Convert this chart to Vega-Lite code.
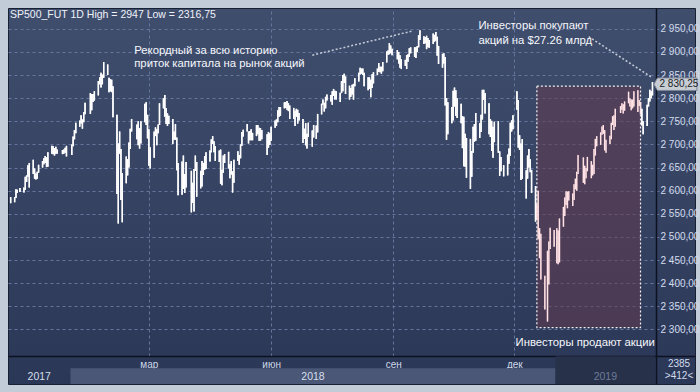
{
  "$schema": "https://vega.github.io/schema/vega-lite/v6.json",
  "width": 687,
  "height": 376,
  "autosize": {"type": "none"},
  "padding": {"left": 8, "top": 8, "right": 5, "bottom": 8},
  "background": "#c2ccd9",
  "title": {"text": "SP500_FUT 1D High = 2947 Low = 2316,75", "anchor": "start", "frame": "group", "orient": "top", "offset": -2, "baseline": "top", "fontSize": 10.5, "fontWeight": "normal", "color": "#eef2f8", "font": "Liberation Sans", "dx": 2, "dy": 11},
  "datasets": {
    "bars": [
      {"d":"2017-11-17","h":2586,"l":2573,"c":2578},
      {"d":"2017-11-20","h":2586,"l":2575,"c":2583},
      {"d":"2017-11-21","h":2603,"l":2584,"c":2600},
      {"d":"2017-11-22","h":2602,"l":2595,"c":2598},
      {"d":"2017-11-24","h":2606,"l":2597,"c":2604},
      {"d":"2017-11-27","h":2607,"l":2596,"c":2602},
      {"d":"2017-11-28","h":2630,"l":2602,"c":2628},
      {"d":"2017-11-29","h":2633,"l":2619,"c":2627},
      {"d":"2017-11-30","h":2655,"l":2630,"c":2649},
      {"d":"2017-12-01","h":2660,"l":2607,"c":2646},
      {"d":"2017-12-04","h":2667,"l":2636,"c":2641},
      {"d":"2017-12-05","h":2648,"l":2626,"c":2631},
      {"d":"2017-12-06","h":2637,"l":2624,"c":2632},
      {"d":"2017-12-07","h":2641,"l":2625,"c":2638},
      {"d":"2017-12-08","h":2656,"l":2639,"c":2654},
      {"d":"2017-12-11","h":2664,"l":2650,"c":2662},
      {"d":"2017-12-12","h":2670,"l":2657,"c":2667},
      {"d":"2017-12-13","h":2675,"l":2660,"c":2665},
      {"d":"2017-12-14","h":2672,"l":2651,"c":2654},
      {"d":"2017-12-15","h":2683,"l":2652,"c":2678},
      {"d":"2017-12-18","h":2697,"l":2680,"c":2692},
      {"d":"2017-12-19","h":2696,"l":2679,"c":2683},
      {"d":"2017-12-20","h":2692,"l":2676,"c":2681},
      {"d":"2017-12-21","h":2695,"l":2680,"c":2686},
      {"d":"2017-12-22","h":2689,"l":2680,"c":2685},
      {"d":"2017-12-26","h":2688,"l":2679,"c":2682},
      {"d":"2017-12-27","h":2689,"l":2680,"c":2685},
      {"d":"2017-12-28","h":2693,"l":2682,"c":2690},
      {"d":"2017-12-29","h":2697,"l":2674,"c":2676},
      {"d":"2018-01-02","h":2700,"l":2677,"c":2698},
      {"d":"2018-01-03","h":2717,"l":2696,"c":2714},
      {"d":"2018-01-04","h":2731,"l":2711,"c":2726},
      {"d":"2018-01-05","h":2747,"l":2724,"c":2745},
      {"d":"2018-01-08","h":2752,"l":2738,"c":2750},
      {"d":"2018-01-09","h":2763,"l":2745,"c":2753},
      {"d":"2018-01-10","h":2754,"l":2734,"c":2750},
      {"d":"2018-01-11","h":2770,"l":2748,"c":2769},
      {"d":"2018-01-12","h":2790,"l":2765,"c":2789},
      {"d":"2018-01-16","h":2811,"l":2766,"c":2779},
      {"d":"2018-01-17","h":2809,"l":2774,"c":2806},
      {"d":"2018-01-18","h":2809,"l":2792,"c":2801},
      {"d":"2018-01-19","h":2815,"l":2795,"c":2813},
      {"d":"2018-01-22","h":2837,"l":2806,"c":2836},
      {"d":"2018-01-23","h":2845,"l":2830,"c":2841},
      {"d":"2018-01-24","h":2855,"l":2823,"c":2839},
      {"d":"2018-01-25","h":2851,"l":2830,"c":2841},
      {"d":"2018-01-26","h":2878,"l":2844,"c":2876},
      {"d":"2018-01-29","h":2873,"l":2850,"c":2856},
      {"d":"2018-01-30","h":2844,"l":2813,"c":2826},
      {"d":"2018-01-31","h":2841,"l":2815,"c":2826},
      {"d":"2018-02-01","h":2840,"l":2813,"c":2824},
      {"d":"2018-02-02","h":2826,"l":2759,"c":2762},
      {"d":"2018-02-05","h":2764,"l":2593,"c":2635},
      {"d":"2018-02-06","h":2702,"l":2529,"c":2693},
      {"d":"2018-02-07","h":2728,"l":2680,"c":2685},
      {"d":"2018-02-08","h":2690,"l":2580,"c":2584},
      {"d":"2018-02-09","h":2638,"l":2532,"c":2620},
      {"d":"2018-02-12","h":2674,"l":2616,"c":2657},
      {"d":"2018-02-13","h":2668,"l":2633,"c":2664},
      {"d":"2018-02-14","h":2704,"l":2650,"c":2700},
      {"d":"2018-02-15","h":2734,"l":2690,"c":2732},
      {"d":"2018-02-16","h":2755,"l":2728,"c":2734},
      {"d":"2018-02-20","h":2743,"l":2711,"c":2719},
      {"d":"2018-02-21","h":2750,"l":2698,"c":2702},
      {"d":"2018-02-22","h":2735,"l":2691,"c":2707},
      {"d":"2018-02-23","h":2750,"l":2702,"c":2749},
      {"d":"2018-02-26","h":2788,"l":2748,"c":2784},
      {"d":"2018-02-27","h":2791,"l":2742,"c":2746},
      {"d":"2018-02-28","h":2764,"l":2713,"c":2715},
      {"d":"2018-03-01","h":2733,"l":2654,"c":2680},
      {"d":"2018-03-02","h":2694,"l":2648,"c":2692},
      {"d":"2018-03-05","h":2728,"l":2671,"c":2722},
      {"d":"2018-03-06","h":2737,"l":2718,"c":2729},
      {"d":"2018-03-07","h":2733,"l":2698,"c":2727},
      {"d":"2018-03-08","h":2743,"l":2724,"c":2740},
      {"d":"2018-03-09","h":2789,"l":2742,"c":2788},
      {"d":"2018-03-12","h":2800,"l":2778,"c":2785},
      {"d":"2018-03-13","h":2807,"l":2760,"c":2767},
      {"d":"2018-03-14","h":2778,"l":2744,"c":2752},
      {"d":"2018-03-15","h":2767,"l":2740,"c":2749},
      {"d":"2018-03-16","h":2762,"l":2744,"c":2755},
      {"d":"2018-03-19","h":2755,"l":2701,"c":2715},
      {"d":"2018-03-20","h":2728,"l":2710,"c":2720},
      {"d":"2018-03-21","h":2744,"l":2710,"c":2714},
      {"d":"2018-03-22","h":2715,"l":2644,"c":2647},
      {"d":"2018-03-23","h":2660,"l":2590,"c":2593},
      {"d":"2018-03-26","h":2663,"l":2591,"c":2659},
      {"d":"2018-03-27","h":2676,"l":2604,"c":2618},
      {"d":"2018-03-28","h":2636,"l":2595,"c":2609},
      {"d":"2018-03-29","h":2662,"l":2607,"c":2645},
      {"d":"2018-04-02","h":2643,"l":2553,"c":2583},
      {"d":"2018-04-03","h":2617,"l":2574,"c":2615},
      {"d":"2018-04-04","h":2647,"l":2555,"c":2645},
      {"d":"2018-04-05","h":2676,"l":2643,"c":2665},
      {"d":"2018-04-06","h":2662,"l":2587,"c":2606},
      {"d":"2018-04-09","h":2643,"l":2605,"c":2614},
      {"d":"2018-04-10","h":2664,"l":2609,"c":2657},
      {"d":"2018-04-11","h":2660,"l":2634,"c":2643},
      {"d":"2018-04-12","h":2675,"l":2645,"c":2665},
      {"d":"2018-04-13","h":2683,"l":2647,"c":2658},
      {"d":"2018-04-16","h":2687,"l":2663,"c":2680},
      {"d":"2018-04-17","h":2711,"l":2683,"c":2708},
      {"d":"2018-04-18","h":2718,"l":2701,"c":2710},
      {"d":"2018-04-19","h":2707,"l":2683,"c":2695},
      {"d":"2018-04-20","h":2696,"l":2664,"c":2672},
      {"d":"2018-04-23","h":2687,"l":2662,"c":2672},
      {"d":"2018-04-24","h":2689,"l":2615,"c":2637},
      {"d":"2018-04-25","h":2645,"l":2612,"c":2641},
      {"d":"2018-04-26","h":2676,"l":2639,"c":2669},
      {"d":"2018-04-27","h":2679,"l":2660,"c":2671},
      {"d":"2018-04-30","h":2684,"l":2648,"c":2650},
      {"d":"2018-05-01","h":2657,"l":2627,"c":2655},
      {"d":"2018-05-02","h":2664,"l":2635,"c":2637},
      {"d":"2018-05-03","h":2642,"l":2596,"c":2632},
      {"d":"2018-05-04","h":2667,"l":2617,"c":2665},
      {"d":"2018-05-07","h":2685,"l":2664,"c":2674},
      {"d":"2018-05-08","h":2677,"l":2656,"c":2673},
      {"d":"2018-05-09","h":2700,"l":2670,"c":2699},
      {"d":"2018-05-10","h":2727,"l":2697,"c":2725},
      {"d":"2018-05-11","h":2732,"l":2717,"c":2730},
      {"d":"2018-05-14","h":2744,"l":2728,"c":2732},
      {"d":"2018-05-15","h":2728,"l":2702,"c":2713},
      {"d":"2018-05-16","h":2729,"l":2709,"c":2724},
      {"d":"2018-05-17","h":2733,"l":2709,"c":2722},
      {"d":"2018-05-18","h":2725,"l":2709,"c":2715},
      {"d":"2018-05-21","h":2742,"l":2718,"c":2734},
      {"d":"2018-05-22","h":2742,"l":2722,"c":2726},
      {"d":"2018-05-23","h":2736,"l":2708,"c":2735},
      {"d":"2018-05-24","h":2735,"l":2708,"c":2729},
      {"d":"2018-05-25","h":2731,"l":2711,"c":2722},
      {"d":"2018-05-29","h":2722,"l":2677,"c":2693},
      {"d":"2018-05-30","h":2727,"l":2693,"c":2725},
      {"d":"2018-05-31","h":2724,"l":2699,"c":2707},
      {"d":"2018-06-01","h":2738,"l":2708,"c":2737},
      {"d":"2018-06-04","h":2752,"l":2736,"c":2749},
      {"d":"2018-06-05","h":2754,"l":2740,"c":2751},
      {"d":"2018-06-06","h":2774,"l":2748,"c":2773},
      {"d":"2018-06-07","h":2781,"l":2760,"c":2772},
      {"d":"2018-06-08","h":2781,"l":2762,"c":2780},
      {"d":"2018-06-11","h":2791,"l":2778,"c":2783},
      {"d":"2018-06-12","h":2792,"l":2779,"c":2788},
      {"d":"2018-06-13","h":2794,"l":2775,"c":2777},
      {"d":"2018-06-14","h":2789,"l":2772,"c":2784},
      {"d":"2018-06-15","h":2784,"l":2755,"c":2781},
      {"d":"2018-06-18","h":2779,"l":2755,"c":2777},
      {"d":"2018-06-19","h":2773,"l":2740,"c":2765},
      {"d":"2018-06-20","h":2777,"l":2760,"c":2770},
      {"d":"2018-06-21","h":2775,"l":2745,"c":2752},
      {"d":"2018-06-22","h":2768,"l":2752,"c":2757},
      {"d":"2018-06-25","h":2755,"l":2703,"c":2718},
      {"d":"2018-06-26","h":2734,"l":2712,"c":2725},
      {"d":"2018-06-27","h":2746,"l":2698,"c":2701},
      {"d":"2018-06-28","h":2723,"l":2691,"c":2719},
      {"d":"2018-06-29","h":2747,"l":2716,"c":2722},
      {"d":"2018-07-02","h":2730,"l":2695,"c":2729},
      {"d":"2018-07-03","h":2742,"l":2715,"c":2716},
      {"d":"2018-07-05","h":2741,"l":2712,"c":2739},
      {"d":"2018-07-06","h":2766,"l":2726,"c":2764},
      {"d":"2018-07-09","h":2788,"l":2765,"c":2787},
      {"d":"2018-07-10","h":2797,"l":2786,"c":2796},
      {"d":"2018-07-11","h":2790,"l":2771,"c":2777},
      {"d":"2018-07-12","h":2803,"l":2778,"c":2802},
      {"d":"2018-07-13","h":2808,"l":2795,"c":2805},
      {"d":"2018-07-16","h":2807,"l":2793,"c":2801},
      {"d":"2018-07-17","h":2815,"l":2786,"c":2812},
      {"d":"2018-07-18","h":2820,"l":2805,"c":2818},
      {"d":"2018-07-19","h":2816,"l":2797,"c":2807},
      {"d":"2018-07-20","h":2815,"l":2797,"c":2804},
      {"d":"2018-07-23","h":2812,"l":2792,"c":2809},
      {"d":"2018-07-24","h":2837,"l":2811,"c":2823},
      {"d":"2018-07-25","h":2850,"l":2815,"c":2849},
      {"d":"2018-07-26","h":2853,"l":2833,"c":2841},
      {"d":"2018-07-27","h":2847,"l":2809,"c":2821},
      {"d":"2018-07-30","h":2827,"l":2797,"c":2805},
      {"d":"2018-07-31","h":2822,"l":2803,"c":2819},
      {"d":"2018-08-01","h":2829,"l":2808,"c":2815},
      {"d":"2018-08-02","h":2831,"l":2797,"c":2829},
      {"d":"2018-08-03","h":2843,"l":2826,"c":2842},
      {"d":"2018-08-06","h":2855,"l":2836,"c":2852},
      {"d":"2018-08-07","h":2866,"l":2851,"c":2860},
      {"d":"2018-08-08","h":2864,"l":2853,"c":2859},
      {"d":"2018-08-09","h":2864,"l":2850,"c":2856},
      {"d":"2018-08-10","h":2855,"l":2826,"c":2835},
      {"d":"2018-08-13","h":2845,"l":2817,"c":2823},
      {"d":"2018-08-14","h":2845,"l":2820,"c":2841},
      {"d":"2018-08-15","h":2840,"l":2802,"c":2821},
      {"d":"2018-08-16","h":2852,"l":2822,"c":2842},
      {"d":"2018-08-17","h":2856,"l":2832,"c":2853},
      {"d":"2018-08-20","h":2864,"l":2850,"c":2860},
      {"d":"2018-08-21","h":2876,"l":2857,"c":2866},
      {"d":"2018-08-22","h":2868,"l":2856,"c":2865},
      {"d":"2018-08-23","h":2868,"l":2853,"c":2859},
      {"d":"2018-08-24","h":2878,"l":2858,"c":2876},
      {"d":"2018-08-27","h":2901,"l":2877,"c":2898},
      {"d":"2018-08-28","h":2903,"l":2894,"c":2899},
      {"d":"2018-08-29","h":2919,"l":2895,"c":2917},
      {"d":"2018-08-30","h":2914,"l":2897,"c":2903},
      {"d":"2018-08-31","h":2907,"l":2893,"c":2904},
      {"d":"2018-09-04","h":2904,"l":2884,"c":2897},
      {"d":"2018-09-05","h":2900,"l":2875,"c":2889},
      {"d":"2018-09-06","h":2893,"l":2866,"c":2880},
      {"d":"2018-09-07","h":2884,"l":2863,"c":2874},
      {"d":"2018-09-10","h":2883,"l":2870,"c":2879},
      {"d":"2018-09-11","h":2893,"l":2863,"c":2890},
      {"d":"2018-09-12","h":2895,"l":2879,"c":2890},
      {"d":"2018-09-13","h":2908,"l":2889,"c":2906},
      {"d":"2018-09-14","h":2910,"l":2897,"c":2906},
      {"d":"2018-09-17","h":2910,"l":2889,"c":2890},
      {"d":"2018-09-18","h":2910,"l":2887,"c":2906},
      {"d":"2018-09-19","h":2913,"l":2900,"c":2910},
      {"d":"2018-09-20","h":2936,"l":2910,"c":2933},
      {"d":"2018-09-21","h":2947,"l":2926,"c":2935},
      {"d":"2018-09-24","h":2934,"l":2917,"c":2925},
      {"d":"2018-09-25","h":2932,"l":2919,"c":2922},
      {"d":"2018-09-26","h":2935,"l":2906,"c":2912},
      {"d":"2018-09-27","h":2930,"l":2910,"c":2921},
      {"d":"2018-09-28","h":2926,"l":2909,"c":2919},
      {"d":"2018-10-01","h":2940,"l":2917,"c":2931},
      {"d":"2018-10-02","h":2937,"l":2922,"c":2929},
      {"d":"2018-10-03","h":2943,"l":2924,"c":2931},
      {"d":"2018-10-04","h":2933,"l":2892,"c":2907},
      {"d":"2018-10-05","h":2913,"l":2874,"c":2891},
      {"d":"2018-10-08","h":2896,"l":2866,"c":2888},
      {"d":"2018-10-09","h":2897,"l":2875,"c":2884},
      {"d":"2018-10-10","h":2889,"l":2784,"c":2788},
      {"d":"2018-10-11","h":2800,"l":2710,"c":2729},
      {"d":"2018-10-12","h":2791,"l":2722,"c":2770},
      {"d":"2018-10-15","h":2781,"l":2746,"c":2755},
      {"d":"2018-10-16","h":2816,"l":2752,"c":2814},
      {"d":"2018-10-17","h":2823,"l":2782,"c":2812},
      {"d":"2018-10-18","h":2817,"l":2762,"c":2771},
      {"d":"2018-10-19","h":2800,"l":2757,"c":2772},
      {"d":"2018-10-22","h":2788,"l":2746,"c":2760},
      {"d":"2018-10-23","h":2761,"l":2692,"c":2744},
      {"d":"2018-10-24","h":2760,"l":2653,"c":2657},
      {"d":"2018-10-25","h":2723,"l":2652,"c":2708},
      {"d":"2018-10-26","h":2714,"l":2628,"c":2663},
      {"d":"2018-10-29","h":2712,"l":2604,"c":2643},
      {"d":"2018-10-30","h":2686,"l":2630,"c":2684},
      {"d":"2018-10-31","h":2738,"l":2682,"c":2715},
      {"d":"2018-11-01","h":2744,"l":2706,"c":2743},
      {"d":"2018-11-02","h":2768,"l":2708,"c":2726},
      {"d":"2018-11-05","h":2746,"l":2714,"c":2741},
      {"d":"2018-11-06","h":2764,"l":2727,"c":2759},
      {"d":"2018-11-07","h":2818,"l":2754,"c":2815},
      {"d":"2018-11-08","h":2818,"l":2796,"c":2810},
      {"d":"2018-11-09","h":2811,"l":2767,"c":2784},
      {"d":"2018-11-12","h":2789,"l":2722,"c":2728},
      {"d":"2018-11-13","h":2755,"l":2716,"c":2725},
      {"d":"2018-11-14","h":2751,"l":2686,"c":2704},
      {"d":"2018-11-15","h":2738,"l":2671,"c":2733},
      {"d":"2018-11-16","h":2749,"l":2705,"c":2740},
      {"d":"2018-11-19","h":2750,"l":2682,"c":2691},
      {"d":"2018-11-20","h":2685,"l":2632,"c":2645},
      {"d":"2018-11-21","h":2673,"l":2642,"c":2651},
      {"d":"2018-11-23","h":2655,"l":2631,"c":2637},
      {"d":"2018-11-26","h":2678,"l":2633,"c":2676},
      {"d":"2018-11-27","h":2691,"l":2658,"c":2684},
      {"d":"2018-11-28","h":2747,"l":2675,"c":2746},
      {"d":"2018-11-29","h":2752,"l":2728,"c":2740},
      {"d":"2018-11-30","h":2763,"l":2733,"c":2761},
      {"d":"2018-12-03","h":2815,"l":2775,"c":2792},
      {"d":"2018-12-04","h":2796,"l":2693,"c":2703},
      {"d":"2018-12-05","h":2720,"l":2688,"c":2700},
      {"d":"2018-12-06","h":2702,"l":2623,"c":2697},
      {"d":"2018-12-07","h":2712,"l":2626,"c":2637},
      {"d":"2018-12-10","h":2644,"l":2583,"c":2640},
      {"d":"2018-12-11","h":2676,"l":2626,"c":2642},
      {"d":"2018-12-12","h":2690,"l":2650,"c":2656},
      {"d":"2018-12-13","h":2668,"l":2640,"c":2655},
      {"d":"2018-12-14","h":2645,"l":2595,"c":2603},
      {"d":"2018-12-17","h":2610,"l":2533,"c":2550},
      {"d":"2018-12-18","h":2571,"l":2537,"c":2549},
      {"d":"2018-12-19","h":2600,"l":2495,"c":2511},
      {"d":"2018-12-20","h":2519,"l":2454,"c":2470},
      {"d":"2018-12-21","h":2507,"l":2408,"c":2420},
      {"d":"2018-12-24","h":2416,"l":2343,"c":2351},
      {"d":"2018-12-26","h":2470,"l":2317,"c":2468},
      {"d":"2018-12-27","h":2490,"l":2397,"c":2485},
      {"d":"2018-12-28","h":2520,"l":2474,"c":2488},
      {"d":"2018-12-31","h":2515,"l":2479,"c":2505},
      {"d":"2019-01-02","h":2519,"l":2443,"c":2510},
      {"d":"2019-01-03","h":2514,"l":2441,"c":2447},
      {"d":"2019-01-04","h":2540,"l":2445,"c":2532},
      {"d":"2019-01-07","h":2565,"l":2522,"c":2550},
      {"d":"2019-01-08","h":2585,"l":2545,"c":2575},
      {"d":"2019-01-09","h":2599,"l":2569,"c":2585},
      {"d":"2019-01-10","h":2598,"l":2562,"c":2597},
      {"d":"2019-01-11","h":2599,"l":2579,"c":2596},
      {"d":"2019-01-14","h":2594,"l":2567,"c":2583},
      {"d":"2019-01-15","h":2614,"l":2580,"c":2611},
      {"d":"2019-01-16","h":2626,"l":2603,"c":2617},
      {"d":"2019-01-17","h":2641,"l":2600,"c":2636},
      {"d":"2019-01-18","h":2677,"l":2636,"c":2671},
      {"d":"2019-01-22","h":2672,"l":2617,"c":2632},
      {"d":"2019-01-23","h":2654,"l":2614,"c":2639},
      {"d":"2019-01-24","h":2649,"l":2627,"c":2643},
      {"d":"2019-01-25","h":2673,"l":2642,"c":2665},
      {"d":"2019-01-28","h":2664,"l":2627,"c":2643},
      {"d":"2019-01-29","h":2656,"l":2633,"c":2640},
      {"d":"2019-01-30","h":2690,"l":2636,"c":2681},
      {"d":"2019-01-31","h":2712,"l":2676,"c":2705},
      {"d":"2019-02-01","h":2718,"l":2696,"c":2707},
      {"d":"2019-02-04","h":2726,"l":2699,"c":2724},
      {"d":"2019-02-05","h":2739,"l":2721,"c":2737},
      {"d":"2019-02-06","h":2742,"l":2723,"c":2733},
      {"d":"2019-02-07","h":2731,"l":2687,"c":2706},
      {"d":"2019-02-08","h":2710,"l":2682,"c":2708},
      {"d":"2019-02-11","h":2719,"l":2701,"c":2710},
      {"d":"2019-02-12","h":2747,"l":2711,"c":2745},
      {"d":"2019-02-13","h":2761,"l":2742,"c":2754},
      {"d":"2019-02-14","h":2763,"l":2731,"c":2745},
      {"d":"2019-02-15","h":2777,"l":2738,"c":2776},
      {"d":"2019-02-19","h":2783,"l":2768,"c":2780},
      {"d":"2019-02-20","h":2789,"l":2775,"c":2784},
      {"d":"2019-02-21","h":2787,"l":2767,"c":2775},
      {"d":"2019-02-22","h":2793,"l":2773,"c":2792},
      {"d":"2019-02-25","h":2814,"l":2789,"c":2796},
      {"d":"2019-02-26","h":2800,"l":2782,"c":2794},
      {"d":"2019-02-27","h":2797,"l":2774,"c":2792},
      {"d":"2019-02-28","h":2797,"l":2778,"c":2785},
      {"d":"2019-03-01","h":2815,"l":2782,"c":2805},
      {"d":"2019-03-04","h":2817,"l":2770,"c":2793},
      {"d":"2019-03-05","h":2796,"l":2783,"c":2789},
      {"d":"2019-03-06","h":2792,"l":2765,"c":2773},
      {"d":"2019-03-07","h":2777,"l":2741,"c":2750},
      {"d":"2019-03-08","h":2750,"l":2722,"c":2746},
      {"d":"2019-03-11","h":2786,"l":2740,"c":2786},
      {"d":"2019-03-12","h":2800,"l":2782,"c":2792},
      {"d":"2019-03-13","h":2818,"l":2793,"c":2812},
      {"d":"2019-03-14","h":2815,"l":2800,"c":2810},
      {"d":"2019-03-15","h":2835,"l":2806,"c":2830.25}
    ],
    "years": [
      {"year":"2017","start":"2017-11-15","end":"2018-01-01"},
      {"year":"2018","start":"2018-01-01","end":"2019-01-01"},
      {"year":"2019","start":"2019-01-01","end":"2019-03-17"}
    ],
    "box": [
      {"start":"2018-12-18","end":"2019-03-06","top":2826,"bottom":2304}
    ],
    "lines": [
      {"d1":"2018-07-02","p1":2893,"d2":"2018-09-15","p2":2945},
      {"d1":"2019-01-26","p1":2933,"d2":"2019-03-14","p2":2846}
    ],
    "notes": [
      {"t":"Рекордный за всю историю","d":"2018-02-18","p":2902},
      {"t":"приток капитала на рынок акций","d":"2018-02-18","p":2874},
      {"t":"Инвесторы покупают","d":"2018-11-04","p":2956},
      {"t":"акций на $27.26 млрд","d":"2018-11-04","p":2924},
      {"t":"Инвесторы продают акции","d":"2018-12-02","p":2271}
    ],
    "corner": [
      {"t":"2385","d":"2019-04-04","p":2225},
      {"t":">412<","d":"2019-04-04","p":2199}
    ]
  },
  "layer": [
    {
      "data": {"name": "bars"},
      "mark": {"type": "rule", "strokeWidth": 1.4},
      "encoding": {
        "x": {
          "field": "d", "type": "temporal",
          "scale": {"type": "utc", "domain": [{"year": 2017, "month": 11, "date": 15, "utc": true}, {"year": 2019, "month": 4, "date": 16, "utc": true}]},
          "axis": {
            "orient": "bottom", "offset": -28, "title": null, "zindex": 0,
            "values": [{"year": 2018, "month": 3, "date": 1, "utc": true}, {"year": 2018, "month": 6, "date": 1, "utc": true}, {"year": 2018, "month": 9, "date": 1, "utc": true}, {"year": 2018, "month": 12, "date": 1, "utc": true}],
            "tickCount": 12,
            "labelExpr": "['янв','фев','мар','апр','май','июн','июл','авг','сен','окт','ноя','дек'][utcmonth(datum.value)]",
            "ticks": true, "tickSize": -348, "labelPadding": 351, "tickColor": "#65759c", "tickDash": [3, 3], "tickWidth": 1,
            "grid": false,
            "domain": true, "domainColor": "#0c1220", "domainWidth": 1.5,
            "labelFont": "Liberation Sans", "labelFontSize": 10, "labelColor": "#cfd8e8", "labelFlush": false, "labelOverlap": false
          }
        },
        "y": {
          "field": "l", "type": "quantitative",
          "scale": {"domain": [2182, 2995], "nice": false, "zero": false},
          "axis": {
            "orient": "right", "offset": -39, "title": null, "zindex": 0,
            "values": [2300, 2350, 2400, 2450, 2500, 2550, 2600, 2650, 2700, 2750, 2800, 2850, 2900, 2950],
            "tickCount": 30,
            "format": ",.2f",
            "ticks": false, "labelPadding": 4,
            "grid": true, "gridColor": "#65759c", "gridDash": [3, 3], "gridWidth": 1,
            "domain": true, "domainColor": "#0c1220", "domainWidth": 1.5,
            "labelFont": "Liberation Sans", "labelFontSize": 10, "labelColor": "#d3dcec", "labelAlign": "left", "labelBaseline": "middle",
            "labelOverlap": false, "labelFlush": false
          }
        },
        "y2": {"field": "h"},
        "color": {"condition": {"test": "datum.d >= toDate('2018-12-18') && datum.d <= toDate('2019-03-06')", "value": "#ffe3e6"}, "value": "#ffffff"}
      }
    },
    {
      "data": {"name": "years"},
      "transform": [{"filter": "datum.year == '2018'"}],
      "mark": {"type": "rect", "color": "#4a5776"},
      "encoding": {
        "x": {"field": "start", "type": "temporal"},
        "x2": {"field": "end"},
        "y": {"datum": 2216, "type": "quantitative"},
        "y2": {"datum": 2182}
      }
    },
    {
      "data": {"name": "years"},
      "transform": [{"filter": "datum.year == '2019'"}],
      "mark": {"type": "rect", "color": "#27314a"},
      "encoding": {
        "x": {"field": "start", "type": "temporal"},
        "x2": {"field": "end"},
        "y": {"datum": 2242, "type": "quantitative"},
        "y2": {"datum": 2182}
      }
    },
    {
      "data": {"name": "years"},
      "transform": [{"calculate": "(toNumber(toDate(datum.start)) + toNumber(toDate(datum.end))) / 2", "as": "mid"}],
      "mark": {"type": "text", "font": "Liberation Sans", "fontSize": 10.5, "baseline": "middle", "align": "center"},
      "encoding": {
        "x": {"field": "mid", "type": "temporal"},
        "y": {"datum": 2198, "type": "quantitative"},
        "text": {"field": "year", "type": "nominal"},
        "color": {"condition": {"test": "datum.year == '2019'", "value": "#6e7b97"}, "value": "#d6deec"}
      }
    },
    {
      "data": {"name": "corner"},
      "mark": {"type": "text", "font": "Liberation Sans", "fontSize": 10, "baseline": "middle", "align": "center", "color": "#d3dcec"},
      "encoding": {
        "x": {"field": "d", "type": "temporal"},
        "y": {"field": "p", "type": "quantitative"},
        "text": {"field": "t", "type": "nominal"}
      }
    },
    {
      "data": {"name": "box"},
      "mark": {"type": "rect", "fill": "#643a4e", "fillOpacity": 0.55, "stroke": "#f0f0f0", "strokeDash": [2, 2], "strokeWidth": 1.2},
      "encoding": {
        "x": {"field": "start", "type": "temporal"},
        "x2": {"field": "end"},
        "y": {"field": "top", "type": "quantitative"},
        "y2": {"field": "bottom"}
      }
    },
    {
      "data": {"name": "bars"},
      "mark": {"type": "rule", "strokeWidth": 1.4},
      "encoding": {
        "x": {"field": "d", "type": "temporal"},
        "y": {"field": "l", "type": "quantitative"},
        "y2": {"field": "h"},
        "color": {"condition": {"test": "datum.d >= toDate('2018-12-18') && datum.d <= toDate('2019-03-06')", "value": "#ffe3e6"}, "value": "#ffffff"}
      }
    },
    {
      "data": {"name": "lines"},
      "mark": {"type": "rule", "color": "#c4cbd8", "strokeDash": [2, 2], "strokeWidth": 1.5},
      "encoding": {
        "x": {"field": "d1", "type": "temporal"},
        "x2": {"field": "d2"},
        "y": {"field": "p1", "type": "quantitative"},
        "y2": {"field": "p2"}
      }
    },
    {
      "data": {"name": "notes"},
      "mark": {"type": "text", "font": "Liberation Sans", "fontSize": 11.3, "align": "left", "baseline": "middle", "color": "#f6f8fc"},
      "encoding": {
        "x": {"field": "d", "type": "temporal"},
        "y": {"field": "p", "type": "quantitative"},
        "text": {"field": "t", "type": "nominal"}
      }
    },
    {
      "data": {"name": "bars"},
      "transform": [{"filter": "datum.c == 2830.25"}],
      "mark": {"type": "point", "shape": "M-1,0L-0.84,-0.29L1,-0.29L1,0.29L-0.84,0.29Z", "size": 1849, "filled": true, "fill": "#c8cdd5", "stroke": "#7c8595", "strokeWidth": 1, "opacity": 1, "xOffset": 23},
      "encoding": {
        "x": {"field": "d", "type": "temporal"},
        "y": {"field": "c", "type": "quantitative"}
      }
    },
    {
      "data": {"name": "bars"},
      "transform": [{"filter": "datum.c == 2830.25"}],
      "mark": {"type": "text", "font": "Liberation Sans", "fontSize": 10, "align": "left", "baseline": "middle", "color": "#1b1e25", "xOffset": 7},
      "encoding": {
        "x": {"field": "d", "type": "temporal"},
        "y": {"field": "c", "type": "quantitative"},
        "text": {"field": "c", "type": "quantitative", "format": ",.2f"}
      }
    }
  ],
  "config": {
    "locale": {"number": {"decimal": ",", "thousands": " ", "grouping": [3], "currency": ["", ""]}},
    "axis": {"labelOverlap": false, "labelFlush": false, "labelBound": false},
    "view": {
      "fill": {"gradient": "linear", "x1": 0, "y1": 0, "x2": 0, "y2": 1, "stops": [{"offset": 0, "color": "#404e6e"}, {"offset": 1, "color": "#2b3757"}]},
      "stroke": "#182034",
      "strokeWidth": 1
    },
    "font": "Liberation Sans"
  }
}
